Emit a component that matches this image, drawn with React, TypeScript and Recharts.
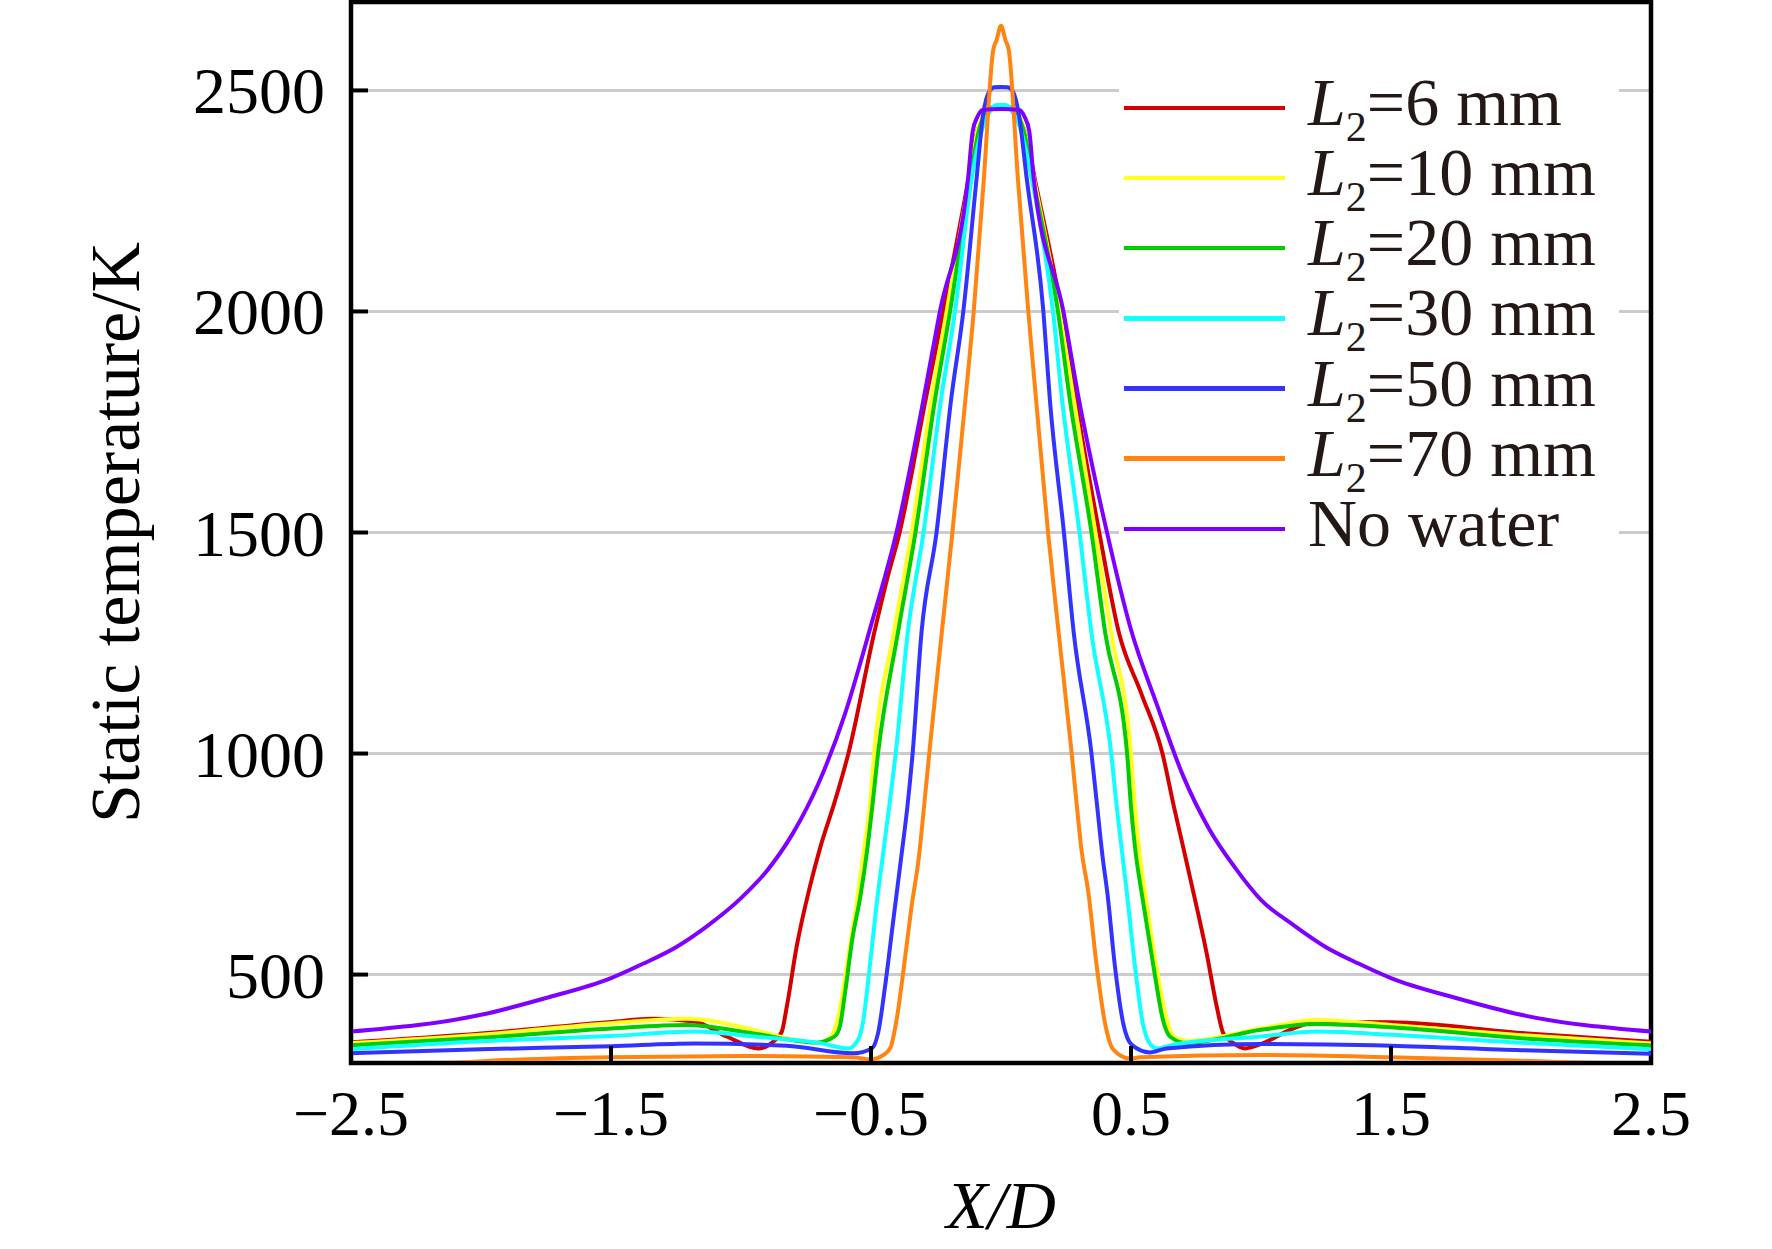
import { CartesianGrid, Legend, Line, LineChart, ReferenceArea, XAxis, YAxis } from "recharts";

// X/D positions and static temperature (K) per case
const l6X = [-2.5, -2.0, -1.5, -1.34, -1.18, -1.055, -0.933, -0.876, -0.843, -0.824, -0.786, -0.735, -0.694, -0.64, -0.587, -0.488, -0.44, -0.39, -0.29, -0.222, -0.125, -0.095, -0.06, -0.03, 0, 0.03, 0.06, 0.095, 0.13, 0.233, 0.287, 0.378, 0.454, 0.54, 0.621, 0.665, 0.7, 0.735, 0.791, 0.83, 0.855, 0.894, 0.938, 1.009, 1.112, 1.214, 1.5, 2.0, 2.5];
const l6T = [347, 367, 393, 400, 394, 360, 333, 348, 371, 427, 563, 699, 790, 890, 1000, 1272, 1390, 1500, 1800, 2000, 2300, 2400, 2445, 2460, 2462, 2460, 2445, 2400, 2300, 2000, 1800, 1500, 1272, 1135, 1000, 880, 790, 699, 548, 427, 367, 345, 333, 345, 375, 393, 392, 368, 348];

const l10X = [-2.5, -2.0, -1.5, -1.21, -0.952, -0.824, -0.709, -0.655, -0.635, -0.613, -0.585, -0.553, -0.525, -0.505, -0.488, -0.413, -0.344, -0.268, -0.209, -0.122, -0.09, -0.055, -0.025, 0, 0.025, 0.055, 0.09, 0.127, 0.225, 0.28, 0.363, 0.424, 0.5, 0.515, 0.53, 0.56, 0.6, 0.637, 0.663, 0.72, 1.0, 1.214, 1.5, 2.0, 2.5];
const l10T = [345, 364, 390, 400, 375, 356, 346, 358, 385, 443, 550, 670, 790, 880, 1000, 1272, 1500, 1800, 2000, 2300, 2410, 2455, 2463, 2465, 2463, 2455, 2410, 2300, 2000, 1800, 1500, 1272, 1000, 880, 790, 660, 510, 400, 360, 350, 378, 397, 386, 363, 344];

const l20X = [-2.5, -2.0, -1.5, -1.21, -0.952, -0.709, -0.64, -0.619, -0.6, -0.572, -0.54, -0.513, -0.495, -0.473, -0.397, -0.329, -0.254, -0.196, -0.118, -0.085, -0.05, -0.022, 0, 0.022, 0.05, 0.087, 0.123, 0.219, 0.265, 0.348, 0.401, 0.485, 0.5, 0.515, 0.545, 0.586, 0.624, 0.65, 0.714, 1.0, 1.214, 1.5, 2.0, 2.5];
const l20T = [340, 357, 378, 386, 367, 346, 360, 385, 458, 580, 680, 790, 880, 1000, 1272, 1500, 1800, 2000, 2300, 2410, 2455, 2464, 2466, 2464, 2455, 2410, 2300, 2000, 1800, 1500, 1272, 1000, 880, 790, 670, 520, 395, 360, 345, 375, 388, 381, 356, 340];

const l30X = [-2.5, -2.0, -1.5, -1.18, -0.95, -0.696, -0.587, -0.55, -0.53, -0.51, -0.478, -0.452, -0.43, -0.405, -0.359, -0.298, -0.231, -0.177, -0.113, -0.077, -0.04, -0.018, 0, 0.018, 0.04, 0.08, 0.118, 0.2, 0.235, 0.302, 0.348, 0.424, 0.445, 0.463, 0.485, 0.515, 0.547, 0.575, 0.599, 0.676, 1.0, 1.214, 1.5, 2.0, 2.5];
const l30T = [331, 349, 361, 371, 360, 345, 333, 352, 395, 490, 661, 780, 880, 1000, 1272, 1500, 1800, 2000, 2300, 2403, 2455, 2467, 2467, 2467, 2455, 2403, 2300, 2000, 1800, 1500, 1272, 1000, 880, 790, 680, 520, 385, 342, 333, 343, 360, 371, 364, 346, 331];

const l50X = [-2.5, -2.0, -1.5, -1.18, -0.824, -0.568, -0.497, -0.472, -0.446, -0.414, -0.385, -0.36, -0.34, -0.306, -0.248, -0.192, -0.145, -0.094, -0.068, -0.046, -0.026, 0, 0.026, 0.046, 0.068, 0.099, 0.163, 0.188, 0.242, 0.28, 0.348, 0.37, 0.39, 0.41, 0.438, 0.47, 0.503, 0.573, 0.637, 1.0, 1.5, 2.0, 2.5];
const l50T = [322, 331, 338, 344, 339, 322, 333, 370, 473, 624, 760, 880, 1000, 1272, 1500, 1800, 2000, 2300, 2448, 2497, 2507, 2508, 2507, 2497, 2448, 2300, 2000, 1800, 1500, 1272, 1000, 880, 770, 680, 520, 390, 341, 324, 333, 343, 339, 329, 321];

const l70X = [-2.5, -2.15, -1.85, -1.5, -0.953, -0.568, -0.504, -0.453, -0.425, -0.401, -0.375, -0.345, -0.315, -0.296, -0.276, -0.228, -0.187, -0.137, -0.105, -0.066, -0.03, -0.017, 0, 0.017, 0.03, 0.065, 0.105, 0.135, 0.181, 0.222, 0.272, 0.292, 0.31, 0.335, 0.368, 0.4, 0.432, 0.496, 0.535, 1.0, 1.5, 2.0, 2.3, 2.5];
const l70T = [296, 300, 308, 313, 316, 313, 308, 318, 335, 400, 510, 650, 770, 880, 1000, 1272, 1500, 1800, 2000, 2300, 2591, 2614, 2646, 2614, 2591, 2300, 2000, 1800, 1500, 1272, 1000, 880, 780, 690, 520, 390, 330, 310, 313, 318, 313, 305, 300, 297];

const noWaterX = [-2.5, -2.0, -1.75, -1.5, -1.375, -1.25, -1.125, -1.0, -0.9, -0.8, -0.7, -0.6, -0.5, -0.4, -0.3, -0.235, -0.126, -0.109, -0.09, -0.07, 0, 0.07, 0.09, 0.109, 0.125, 0.24, 0.3, 0.4, 0.5, 0.6, 0.7, 0.8, 0.9, 1.0, 1.125, 1.25, 1.375, 1.5, 1.75, 2.0, 2.5];
const noWaterT = [371, 409, 447, 492, 525, 562, 612, 673, 735, 820, 935, 1090, 1290, 1505, 1795, 2000, 2305, 2407, 2441, 2456, 2458, 2456, 2441, 2407, 2305, 2000, 1800, 1520, 1280, 1110, 950, 830, 742, 669, 612, 562, 525, 492, 447, 409, 371];

const xTicks = [-2.5, -1.5, -0.5, 0.5, 1.5, 2.5];
const xGrid = [-2, -1.5, -1, -0.5, 0, 0.5, 1, 1.5, 2];
const yTicks = [500, 1000, 1500, 2000, 2500];

const series = [
  { name: "L2=6 mm", color: "#d40000", xs: l6X, ts: l6T },
  { name: "L2=10 mm", color: "#ffff22", xs: l10X, ts: l10T },
  { name: "L2=20 mm", color: "#00cc00", xs: l20X, ts: l20T },
  { name: "L2=30 mm", color: "#11ffff", xs: l30X, ts: l30T },
  { name: "L2=50 mm", color: "#3333ff", xs: l50X, ts: l50T },
  { name: "L2=70 mm", color: "#ff8411", xs: l70X, ts: l70T },
  { name: "No water", color: "#7f00ff", xs: noWaterX, ts: noWaterT },
];

const FONT = "'Liberation Serif', 'Times New Roman', serif";

const toRows = (xs: number[], ts: number[]) => xs.map((x, i) => ({ x, t: ts[i] }));
const fmt = (v: number) => (v < 0 ? "\u2212" + Math.abs(v) : String(v));

function XTick({ x, y, payload }: any) {
  const v = payload.value;
  const edge = Math.abs(v) === 2.5;
  return (
    <g>
      {!edge && <line x1={x} x2={x} y1={y} y2={y - 17} stroke="#000" strokeWidth={4} />}
      <text x={x} y={y + 72} textAnchor="middle" fontFamily={FONT} fontSize={64} fill="#000">
        {fmt(v)}
      </text>
    </g>
  );
}

function YTick({ x, y, payload }: any) {
  return (
    <g>
      <line x1={x} x2={x + 17} y1={y} y2={y} stroke="#000" strokeWidth={4} />
      <text x={x - 26} y={y + 23} textAnchor="end" fontFamily={FONT} fontSize={66} fill="#000">
        {payload.value}
      </text>
    </g>
  );
}

function LegendLabel({ name }: { name: string }) {
  if (!name.startsWith("L2")) return <span>{name}</span>;
  return (
    <span>
      <i>L</i>
      <span style={{ fontSize: 42, position: "relative", top: 16, lineHeight: 0 }}>2</span>
      {name.slice(2)}
    </span>
  );
}

function LegendBox() {
  return (
    <div style={{ paddingTop: 7.7, fontFamily: FONT, fontSize: 68, color: "#231815" }}>
      {series.map((s) => (
        <div key={s.name} style={{ height: 70.2, display: "flex", alignItems: "center" }}>
          <div style={{ marginLeft: 5, width: 161, height: 4.5, background: s.color }} />
          <div style={{ marginLeft: 23, lineHeight: 1, position: "relative", top: -6, whiteSpace: "nowrap" }}>
            <LegendLabel name={s.name} />
          </div>
        </div>
      ))}
    </div>
  );
}

export default function App() {
  return (
    <div style={{ position: "absolute", left: 0, top: 0, width: 1772, height: 1249, background: "#fff" }}>
      <LineChart width={1772} height={1249} margin={{ top: 2, right: 121, bottom: 0, left: 0 }}>
        <CartesianGrid xAxisId="top" stroke="#cccccc" strokeWidth={3} />
        <XAxis
          type="number"
          dataKey="x"
          domain={[-2.5, 2.5]}
          ticks={xTicks}
          allowDataOverflow
          height={186}
          tickSize={0}
          tickMargin={0}
          tickLine={false}
          axisLine={{ stroke: "#000", strokeWidth: 4 }}
          tick={<XTick />}
          label={{
            content: ({ viewBox }: any) => (
              <text x={viewBox.x + viewBox.width / 2} y={viewBox.y + 165} textAnchor="middle" fontFamily={FONT} fontSize={68} fontStyle="italic" fill="#000">
                X/D
              </text>
            ),
          }}
        />
        <XAxis
          xAxisId="top"
          orientation="top"
          type="number"
          domain={[-2.5, 2.5]}
          ticks={xGrid}
          allowDataOverflow
          height={0}
          tick={false}
          tickLine={false}
          axisLine={false}
        />
        <YAxis
          type="number"
          domain={[300, 2700]}
          ticks={yTicks}
          allowDataOverflow
          width={351}
          tickSize={0}
          tickMargin={0}
          tickLine={false}
          axisLine={{ stroke: "#000", strokeWidth: 4 }}
          tick={<YTick />}
          label={{
            content: ({ viewBox }: any) => {
              const cy = viewBox.y + viewBox.height / 2;
              return (
                <text x={139} y={cy} transform={`rotate(-90 139 ${cy})`} textAnchor="middle" fontFamily={FONT} fontSize={70} fill="#000">
                  Static temperature/K
                </text>
              );
            },
          }}
        />
        {series.map((s) => (
          <Line
            key={s.name}
            name={s.name}
            data={toRows(s.xs, s.ts)}
            dataKey="t"
            type="monotone"
            stroke={s.color}
            strokeWidth={4}
            dot={false}
            activeDot={false}
            isAnimationActive={false}
          />
        ))}
        <ReferenceArea x1={-2.5} x2={2.5} y1={300} y2={2700} fill="none" fillOpacity={0} stroke="#000" strokeWidth={4.5} ifOverflow="visible" />
        <Legend
          layout="horizontal"
          verticalAlign="middle"
          align="center"
          content={() => <LegendBox />}
          wrapperStyle={{ left: 1119, top: 65, width: 500, height: 504, backgroundColor: "#fff" }}
        />
      </LineChart>
    </div>
  );
}
